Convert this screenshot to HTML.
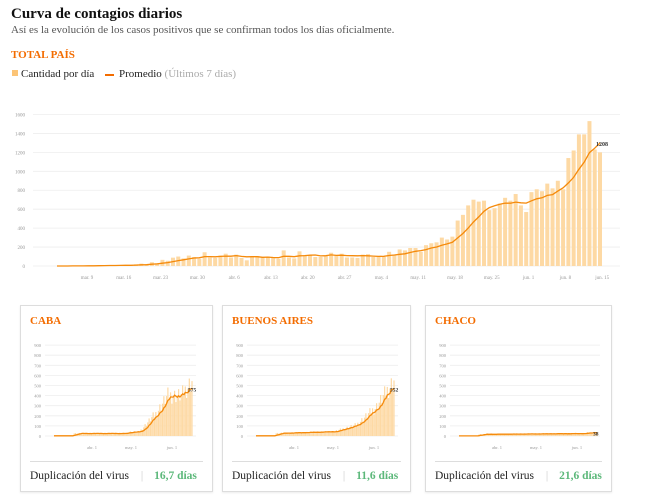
<!DOCTYPE html>
<html><head><meta charset="utf-8">
<style>
body{margin:0;width:647px;height:502px;background:#fff;font-family:"Liberation Serif",serif;overflow:hidden;position:relative}
.t{position:absolute;white-space:nowrap}
.card{position:absolute;top:305px;height:185px;border:1px solid #ddd;box-shadow:0 1px 2px rgba(0,0,0,.08);background:#fff}
.card h3{position:absolute;left:9px;margin:0;font:bold 11px "Liberation Serif",serif;color:#f36c00;top:9px}
.foot{position:absolute;left:9px;right:9px;top:155px;border-top:1px solid #ddd;font-size:11.5px;color:#222;padding-top:8px}
.foot b{color:#5cb87a;font-weight:bold;margin-left:8px}
.sep{color:#ccc;margin-left:9px}
svg{position:absolute;left:0;top:0}
</style></head><body>
<div class="t" style="left:11px;top:6px;font-weight:bold;font-size:15px;color:#111">Curva de contagios diarios</div>
<div class="t" style="left:11px;top:24px;font-size:11px;color:#555">Así es la evolución de los casos positivos que se confirman todos los días oficialmente.</div>
<div class="t" style="left:11px;top:49px;font-weight:bold;font-size:11px;color:#f36c00">TOTAL PAÍS</div>
<div class="t" style="left:12px;top:70px;width:6px;height:6px;background:#fcc476"></div>
<div class="t" style="left:21px;top:68px;font-size:11px;color:#222">Cantidad por día</div>
<div class="t" style="left:105px;top:74px;width:9px;height:1.5px;background:#f36c00"></div>
<div class="t" style="left:119px;top:68px;font-size:11px;color:#222">Promedio <span style="color:#aaa">(Últimos 7 días)</span></div>

<div class="card" style="left:20px;width:191px"><h3>CABA</h3><div class="foot">Duplicación del virus <span class="sep">|</span> <b>16,7 días</b></div></div>
<div class="card" style="left:222px;width:187px"><h3>BUENOS AIRES</h3><div class="foot">Duplicación del virus <span class="sep">|</span> <b>11,6 días</b></div></div>
<div class="card" style="left:425px;width:185px"><h3>CHACO</h3><div class="foot">Duplicación del virus <span class="sep">|</span> <b>21,6 días</b></div></div>

<svg id="s" width="647" height="502" xmlns="http://www.w3.org/2000/svg"></svg>
<script>
var nat=[0,1,0,2,3,2,5,4,7,3,10,8,5,12,10,18,25,20,40,30,65,55,88,100,80,110,95,75,145,90,85,110,130,90,120,85,60,95,105,90,100,90,75,165,90,80,155,115,115,95,95,105,140,115,130,90,90,85,120,125,95,105,95,150,120,175,165,190,190,150,220,240,250,300,280,310,480,540,640,700,680,690,590,610,660,720,690,760,640,570,780,810,790,870,820,900,810,1140,1220,1390,1390,1530,1230,1200];
var s=document.getElementById('s'),h='';
function ma(a){return a.map(function(v,i){var n=0,t=0;for(var j=Math.max(0,i-6);j<=i;j++){t+=a[j];n++}return t/n});}
function chart(d,x0,x1,y0,sc,bw,ticks,gx0,gx1,lx,tl,lab,fs){
 var dx=(x1-x0)/(d.length-1);
 ticks.forEach(function(v){var y=y0-v*sc;h+='<line x1="'+gx0+'" x2="'+gx1+'" y1="'+y+'" y2="'+y+'" stroke="#eee" stroke-width="0.8"/><text x="'+lx+'" y="'+(y+2)+'" font-size="'+fs+'" fill="#999" text-anchor="end" font-family="Liberation Serif">'+v+'</text>';});
 d.forEach(function(v,i){var x=x0+i*dx;h+='<rect x="'+(x-bw/2)+'" y="'+(y0-v*sc)+'" width="'+bw+'" height="'+v*sc+'" fill="#fdd9a4"/>';});
 var m=ma(d),p='';m.forEach(function(v,i){p+=(i?'L':'M')+(x0+i*dx).toFixed(1)+','+(y0-v*sc).toFixed(1)});
 h+='<path d="'+p+'" fill="none" stroke="#f58a0b" stroke-width="1.3"/>';
 tl.forEach(function(t){h+='<text x="'+t[0]+'" y="'+(y0+13)+'" font-size="'+fs+'" fill="#999" text-anchor="middle" font-family="Liberation Serif">'+t[1]+'</text>'});
 var l=d.length-1;h+='<text x="'+(x1-4)+'" y="'+(y0-m[l]*sc+3)+'" font-size="'+(fs+1)+'" fill="#333" font-weight="bold" font-family="Liberation Serif">'+lab+'</text>';
}
var names=['mar. 9','mar. 16','mar. 23','mar. 30','abr. 6','abr. 13','abr. 20','abr. 27','may. 4','may. 11','may. 18','may. 25','jun. 1','jun. 8','jun. 15'];
chart(nat,57,600,266,0.0947,4,[0,200,400,600,800,1000,1200,1400,1600],33,620,25,names.map(function(n,k){return [87+36.8*k,n]}),'1208',5);
function gen(f){var a=[];for(var i=0;i<104;i++)a.push(Math.max(0,f(i)*(0.8+0.4*((i*37%11)/10))));return a;}
var caba=gen(function(i){return i<15?2:i<55?25:i<65?40:i<75?60+(i-65)*15:i<85?200+(i-75)*20:i<95?400:400+(i-95)*18});
var ba=gen(function(i){return i<15?2:i<60?20+i*0.4:i<75?50+(i-60)*4:i<90?110+(i-75)*12:290+(i-90)*20});
var ch=gen(function(i){return i<15?1:i<95?15+i*0.1:30+(i-95)*1});
var sl=function(o){return [[92+o,'abr. 1'],[131+o,'may. 1'],[172+o,'jun. 1']]};
var tk=[0,100,200,300,400,500,600,700,800,900];
chart(caba,54,192,436,0.101,1.2,tk,45,196,41,sl(0),'575',4.5);
chart(ba,256,394,436,0.101,1.2,tk,247,398,243,sl(202),'552',4.5);
chart(ch,459,597,436,0.101,1.2,tk,450,600,446,sl(405),'38',4.5);
s.innerHTML=h;
</script>
</body></html>
